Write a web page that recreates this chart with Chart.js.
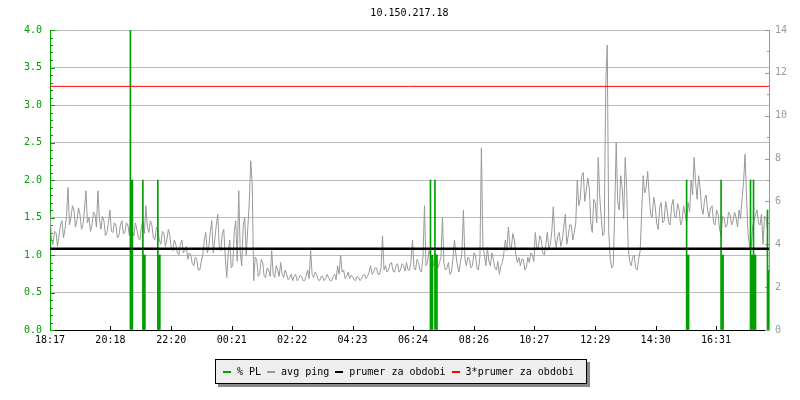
<!DOCTYPE html>
<html>
<head>
<meta charset="utf-8">
<script src="https://cdn.jsdelivr.net/npm/chart.js@4.4.1/dist/chart.umd.min.js"></script>
<style>
    body { margin: 0; background: #fff; }
    #wrap { position: relative; width: 800px; height: 400px; }
    #legend {
        position: absolute; left: 215px; top: 359px; width: 363px; height: 23px;
        background: #eeeeee; border: 1px solid #000; box-shadow: 3px 3px 0 #8a8a8a;
        font: 10px "DejaVu Sans Mono", monospace; color: #000;
        display: flex; align-items: center; padding-left: 7px; box-sizing: content-box;
    }
    #legend span { display: inline-flex; align-items: center; margin-right: 6px; white-space: pre; }
    #legend i { display: inline-block; width: 8px; height: 2px; margin-right: 6px; }
</style>
</head>
<body>
<div id="wrap">
    <canvas id="graph" width="800" height="400"></canvas>
    <div id="legend"></div>
</div>
<script>
const graphTitle = '10.150.217.18';

// x axis: minutes since 18:17
const tickMinutes = [0, 121, 243, 364, 485, 606, 727, 849, 970, 1092, 1213, 1334];
const tickLabels = ['18:17', '20:18', '22:20', '00:21', '02:22', '04:23', '06:24', '08:26', '10:27', '12:29', '14:30', '16:31'];

// avg ping [ms], one sample every 6 minutes ...
const pingStep = 6;
const avgPing = [
    5.4, 4.0, 4.55, 4.4, 5.1, 4.7, 6.65, 5.25, 5.6, 5.1, 5.4, 4.9, 6.5, 5.25, 4.9, 5.4, 6.5, 4.7, 5.1, 4.55,
    5.6, 4.55, 4.9, 4.4, 5.1, 4.55, 4.9, 5.6, 4.4, 4.7, 4.2, 5.1, 5.8, 4.55, 4.9, 4.2, 4.7, 4.0, 4.55, 4.2,
    4.4, 3.7, 4.0, 3.5, 4.2, 3.7, 3.3, 3.5, 3.0, 3.3, 2.8, 3.5, 4.55, 3.85, 5.1, 4.2, 5.4, 3.7, 4.7, 2.45,
    4.2, 3.0, 5.1, 6.5, 3.0, 5.25, 4.7, 7.9, 2.3, 3.3, 2.6, 3.15, 2.45, 2.8, 3.7, 2.45, 2.8, 3.15, 2.45, 2.6,
    2.45, 2.3, 2.6, 2.4, 2.5, 2.3, 2.8, 3.7, 2.45, 2.6, 2.3, 2.5, 2.4, 2.45, 2.3, 2.6, 3.0, 3.5, 2.8, 2.5,
    2.4, 2.5, 2.3, 2.45, 2.4, 2.6, 2.5, 3.0, 2.7, 2.9, 2.6, 4.4, 3.0, 2.8, 3.15, 2.7, 3.1, 2.8, 3.0, 3.15,
    2.8, 4.2, 2.8, 3.15, 2.7, 5.8, 3.15, 3.5, 3.0, 3.5, 3.15, 5.25, 2.8, 3.15, 2.7, 4.2, 3.0, 3.15, 5.6, 3.0,
    3.3, 3.0, 3.5, 2.8, 8.5, 3.5, 3.85, 3.0, 3.3, 2.8, 2.6, 3.15, 4.2, 4.8, 3.85, 4.2, 3.15, 3.0, 3.3, 2.9,
    3.15, 3.5, 4.55, 3.85, 4.2, 3.5, 4.55, 4.0, 5.75, 3.85, 4.55, 4.2, 5.4, 4.4, 4.9, 4.55, 7.0, 6.1, 7.35, 6.5,
    6.65, 4.55, 5.95, 8.05, 5.25, 4.55, 13.3, 3.3, 3.0, 8.75, 5.6, 6.65, 8.05, 3.85, 3.0, 3.5, 2.8, 3.7, 7.2, 6.65,
    6.3, 5.25, 5.8, 4.7, 5.95, 5.1, 5.6, 4.9, 6.1, 5.25, 5.6, 5.1, 5.4, 5.95, 7.0, 8.05, 6.1, 6.65, 5.4, 6.3,
    5.25, 5.8, 4.9, 5.4, 4.4, 5.25, 4.9, 5.4, 5.1, 5.25, 5.6, 6.1, 8.2, 4.55, 3.7, 5.1, 5.6, 4.9, 4.0, 5.25
];
// ... and the other edge of the noise band, 3 minutes later
const avgPingMid = [
    4.2, 4.6, 3.9, 4.9, 4.3, 5.3, 4.9, 5.8, 4.8, 5.7, 4.7, 5.6, 5.0, 4.6, 5.5, 4.8, 5.2, 5.3, 4.4, 5.0,
    4.6, 5.0, 4.3, 4.9, 4.5, 5.0, 4.4, 4.6, 5.0, 4.3, 4.8, 4.5, 4.8, 5.1, 4.3, 4.8, 4.2, 4.6, 3.9, 4.7,
    3.8, 4.2, 3.6, 4.0, 3.6, 3.9, 3.6, 3.1, 3.4, 2.8, 3.2, 4.2, 3.6, 4.6, 3.6, 4.9, 3.9, 4.5, 3.4, 3.6,
    2.9, 4.6, 3.2, 3.6, 4.9, 3.5, 5.9, 6.8, 3.4, 2.5, 3.3, 2.5, 2.9, 2.5, 2.6, 3.0, 2.5, 2.6, 2.8, 2.35,
    2.6, 2.5, 2.3, 2.55, 2.3, 2.5, 2.4, 2.6, 2.7, 2.35, 2.5, 2.3, 2.6, 2.3, 2.5, 2.35, 2.6, 2.7, 2.4, 2.7,
    2.55, 2.35, 2.5, 2.3, 2.55, 2.4, 2.7, 2.6, 2.9, 2.6, 2.9, 2.8, 2.7, 3.1, 2.75, 3.0, 2.7, 3.1, 2.75, 2.8,
    3.2, 2.9, 3.3, 2.8, 3.4, 3.0, 3.7, 2.9, 3.6, 2.9, 3.4, 3.1, 2.9, 2.6, 3.3, 3.5, 2.7, 3.6, 3.3, 3.4,
    2.9, 3.6, 2.9, 3.4, 3.9, 3.0, 3.2, 3.6, 2.9, 3.2, 3.0, 3.6, 3.7, 3.9, 4.5, 3.5, 3.4, 3.3, 2.8, 3.4,
    3.6, 3.2, 3.8, 4.4, 3.6, 4.0, 3.8, 4.6, 4.3, 4.4, 3.9, 4.8, 4.0, 4.9, 4.2, 5.0, 5.8, 7.2, 6.0, 7.1,
    5.0, 6.1, 5.0, 6.2, 4.4, 11.4, 4.6, 2.9, 5.5, 6.0, 7.2, 5.2, 6.6, 3.2, 3.4, 2.9, 3.3, 5.5, 6.4, 7.4,
    5.4, 6.2, 5.0, 5.7, 5.0, 6.0, 5.0, 5.8, 5.3, 5.9, 4.9, 5.8, 5.0, 5.5, 6.3, 6.9, 7.2, 5.7, 6.1, 5.6,
    5.7, 5.0, 5.6, 4.7, 5.3, 4.8, 5.5, 4.9, 5.5, 4.8, 5.2, 6.9, 6.2, 3.9, 4.8, 5.4, 5.0, 5.4, 5.3, 4.7
];

// packet loss events [%]
const plMinutes = [162, 187, 217, 763, 772, 1276, 1345, 1404, 1410, 1438];
const plValues = [4, 2, 2, 2, 2, 2, 2, 2, 2, 1.6];

const avgPeriod = 3.79;     // prumer za obdobi [ms]
const avgPeriod3 = 11.37;   // 3*prumer

const green = '#00a000';
const grey = '#999999';
const gridGrey = '#bdbdbd';
const monoFont = { family: '"DejaVu Sans Mono", monospace', size: 10 };

const legendItems = [
    { label: '% PL', color: green },
    { label: 'avg ping', color: grey },
    { label: 'prumer za obdobi', color: '#000000' },
    { label: '3*prumer za obdobi', color: '#ff0000' }
];

document.getElementById('legend').innerHTML = legendItems
    .map(it => `<span><i style="background:${it.color}"></i>${it.label}</span>`).join('');

// inner ticks + title, rrdtool style
const rrdDecor = {
    id: 'rrdDecor',
    beforeDatasetsDraw(chart) {
        const ctx = chart.ctx;
        const a = chart.chartArea;
        const yl = chart.scales.y, yr = chart.scales.y2, x = chart.scales.x;
        ctx.save();
        ctx.lineWidth = 1;
        ctx.strokeStyle = green;
        for (let k = 0; k <= 40; k++) {
            const py = Math.round(yl.getPixelForValue(k / 10)) + 0.5;
            const len = k % 5 === 0 ? 5 : 3;
            ctx.beginPath(); ctx.moveTo(a.left, py); ctx.lineTo(a.left + len, py); ctx.stroke();
        }
        ctx.strokeStyle = grey;
        for (let k = 0; k <= 14; k++) {
            const py = Math.round(yr.getPixelForValue(k)) + 0.5;
            const len = k % 2 === 0 ? 4 : 2;
            ctx.beginPath(); ctx.moveTo(a.right, py); ctx.lineTo(a.right - len, py); ctx.stroke();
        }
        ctx.strokeStyle = '#000';
        tickMinutes.slice(1).forEach(m => {
            const px = Math.round(x.getPixelForValue(m)) + 0.5;
            ctx.beginPath(); ctx.moveTo(px, a.bottom); ctx.lineTo(px, a.bottom - 4); ctx.stroke();
        });
        ctx.restore();
    },
    afterDraw(chart) {
        const ctx = chart.ctx;
        const a = chart.chartArea;
        ctx.save();
        ctx.font = '10px "DejaVu Sans Mono", monospace';
        ctx.fillStyle = '#000';
        ctx.textAlign = 'center';
        ctx.textBaseline = 'middle';
        ctx.fillText(graphTitle, (a.left + a.right) / 2, 13);
        ctx.restore();
    }
};

const pingData = avgPing.flatMap((v, i) => [
    { x: i * pingStep, y: v },
    { x: i * pingStep + pingStep / 2, y: avgPingMid[i] }
]);
const plData = plMinutes.map((m, i) => ({ x: m, y: plValues[i] }));
const plLowData = plMinutes.map((m, i) => ({ x: m, y: plValues[i] / 2 }));

const config = {
    type: 'line',
    data: {
        datasets: [
            {
                label: '3*prumer za obdobi',
                data: [{ x: 0, y: avgPeriod3 }, { x: 1440, y: avgPeriod3 }],
                yAxisID: 'y2', borderColor: '#ff0000', borderWidth: 1, pointRadius: 0, order: 0
            },
            {
                label: 'prumer za obdobi',
                data: [{ x: 0, y: avgPeriod }, { x: 1440, y: avgPeriod }],
                yAxisID: 'y2', borderColor: '#000000', borderWidth: 2.5, pointRadius: 0, order: 0
            },
            {
                label: '% PL',
                type: 'bar',
                data: plData,
                yAxisID: 'y', backgroundColor: green, barThickness: 1, order: 1
            },
            {
                label: '% PL low',
                type: 'bar',
                data: plLowData,
                yAxisID: 'y', backgroundColor: green, barThickness: 2, order: 1
            },
            {
                label: 'avg ping',
                data: pingData,
                yAxisID: 'y2', borderColor: grey, borderWidth: 1, pointRadius: 0, tension: 0, order: 2
            }
        ]
    },
    plugins: [rrdDecor],
    options: {
        responsive: false,
        animation: false,
        layout: { padding: { top: 30 } },
        plugins: {
            legend: { display: false },
            tooltip: { enabled: false }
        },
        scales: {
            x: {
                type: 'linear', min: 0, max: 1440, offset: false,
                afterBuildTicks: s => { s.ticks = tickMinutes.map(v => ({ value: v })); },
                afterFit: s => { s.height = 70; },
                ticks: {
                    autoSkip: false, maxRotation: 0, color: '#000', font: monoFont, padding: 4,
                    callback: v => tickLabels[tickMinutes.indexOf(v)]
                },
                grid: { display: false, offset: false, drawTicks: false },
                border: { color: '#000', width: 1 }
            },
            y: {
                position: 'left', min: 0, max: 4,
                afterFit: s => { s.width = 50; },
                ticks: {
                    stepSize: 0.5, color: green, font: monoFont, padding: 8,
                    callback: v => v.toFixed(1)
                },
                grid: {
                    drawTicks: false,
                    color: c => c.tick.value === 0 ? 'rgba(0,0,0,0)' : gridGrey
                },
                border: { color: green, width: 1 }
            },
            y2: {
                position: 'right', min: 0, max: 14,
                afterFit: s => { s.width = 31; },
                ticks: { stepSize: 2, color: grey, font: monoFont, padding: 6 },
                grid: { drawOnChartArea: false, drawTicks: false },
                border: { color: grey, width: 1 }
            }
        }
    }
};

const graph = new Chart(document.getElementById('graph'), config);
</script>
</body>
</html>
